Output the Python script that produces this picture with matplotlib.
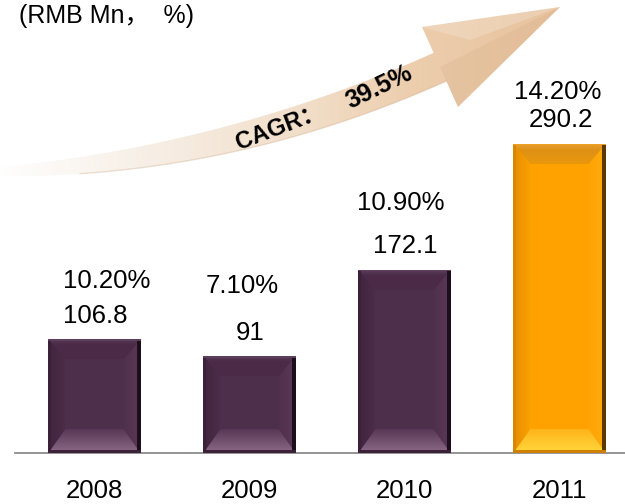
import numpy as np
import matplotlib
matplotlib.use('Agg')
import matplotlib.pyplot as plt
from matplotlib.patches import Polygon
from matplotlib.colors import to_rgb

# ---------------- data ----------------
years = ['2008', '2009', '2010', '2011']
revenue = [106.8, 91, 172.1, 290.2]          # RMB Mn
share = [10.2, 7.1, 10.9, 14.2]              # %
unit_label = '(RMB Mn，  %)'
cagr_label = 'CAGR：'
cagr_value = '39.5%'

# ---------------- layout ----------------
W, H = 625, 504
FONT = ['Liberation Sans', 'Noto Sans CJK SC', 'DejaVu Sans']
plt.rcParams['font.family'] = FONT

fig = plt.figure(figsize=(W / 100, H / 100), dpi=100)
ax = fig.add_axes([0, 0, 1, 1])
ax.set_xlim(-0.6097, 3.4226)
ax.set_ylim(-47.9, 425.4)
ax.axis('off')

ov = fig.add_axes([0, 0, 1, 1], zorder=5)
ov.patch.set_alpha(0)
ov.axis('off')

xpos = np.arange(len(years))
bar_colors = ['#4D2E4B', '#4D2E4B', '#4D2E4B', '#FFA200']
bars = ax.bar(xpos, revenue, width=0.594, color=bar_colors, linewidth=0, zorder=2)
ax.axhline(0, xmin=15 / W, xmax=1, color='#8C8C8C', lw=1.3, zorder=1)


def to_px(xd, yd):
    d = ax.transData.transform((xd, yd))
    return d[0], H - d[1]


def grad_poly(verts, stops, direction='v', zorder=3, alpha=1.0):
    verts = np.asarray(verts, float)
    x0, x1 = verts[:, 0].min(), verts[:, 0].max()
    y0, y1 = verts[:, 1].min(), verts[:, 1].max()
    n = 128
    t = np.linspace(0, 1, n)
    pos = [s[0] for s in stops]
    cols = np.array([to_rgb(s[1]) for s in stops])
    c = np.stack([np.interp(t, pos, cols[:, k]) for k in range(3)], axis=1)
    if direction == 'v':
        img = c[:, None, :]
    else:
        img = c[None, :, :]
    im = ov.imshow(img, extent=(x0, x1, y1, y0), origin='upper', aspect='auto',
                   interpolation='bilinear', zorder=zorder, alpha=alpha)
    clip = Polygon(verts, closed=True, transform=ov.transData,
                   facecolor='none', edgecolor='none')
    ov.add_patch(clip)
    im.set_clip_path(clip)
    return im


schemes = {
    'purple': dict(top=[(0, '#5E3F5B'), (0.25, '#4B2B48'), (1, '#4A2A47')],
                   bottom=[(0, '#573755'), (1, '#8C6A88')],
                   left=[(0, '#3F233C'), (1, '#4C2D49')],
                   right=[(0, '#4F304D'), (1, '#5A3957')],
                   edge_l='#3A2038', edge_r='#1C0F1B', edge_b='#3C2239', edge_t='#5E405C'),
    'orange': dict(top=[(0, '#E8A030'), (0.3, '#DE9116'), (1, '#E9980C')],
                   bottom=[(0, '#FFB41A'), (1, '#FFD83C')],
                   left=[(0, '#E58C00'), (1, '#FBA000')],
                   right=[(0, '#FFA404'), (1, '#FFAA10')],
                   edge_l='#D98600', edge_r='#5A3800', edge_b='#D08000', edge_t='#F0A020'),
}

for i, b in enumerate(bars):
    sc = schemes['orange' if i == 3 else 'purple']
    L, B = to_px(b.get_x(), b.get_y())
    R, T = to_px(b.get_x() + b.get_width(), b.get_y() + b.get_height())
    sx, st, sb = 17, 20, 24
    top = [(L, T), (R, T), (R - sx, T + st), (L + sx, T + st)]
    bottom = [(L, B), (R, B), (R - sx, B - sb), (L + sx, B - sb)]
    left = [(L, T), (L + sx, T + st), (L + sx, B - sb), (L, B)]
    right = [(R, T), (R, B), (R - sx, B - sb), (R - sx, T + st)]
    grad_poly(left, sc['left'], 'h', zorder=3)
    grad_poly(right, sc['right'], 'h', zorder=3)
    grad_poly(top, sc['top'], 'v', zorder=3)
    grad_poly(bottom, sc['bottom'], 'v', zorder=3)
    # thin outer edges
    ov.add_patch(Polygon([(L, T), (L + 2.5, T), (L + 2.5, B), (L, B)], closed=True,
                         facecolor=sc['edge_l'], edgecolor='none', zorder=4))
    ov.add_patch(Polygon([(R - 3.5, T), (R, T), (R, B), (R - 3.5, B)], closed=True,
                         facecolor=sc['edge_r'], edgecolor='none', zorder=4))
    ov.add_patch(Polygon([(L, B - 2.5), (R, B - 2.5), (R, B), (L, B)], closed=True,
                         facecolor=sc['edge_b'], edgecolor='none', zorder=4))
    ov.add_patch(Polygon([(L, T), (R, T), (R, T + 1.5), (L, T + 1.5)], closed=True,
                         facecolor=sc['edge_t'], edgecolor='none', zorder=4))

# ---------------- labels ----------------
pct_dx = [12, -7, -4, -2]
pct_gap = [35, 47, 43, 28]
for i, b in enumerate(bars):
    cx, _ = to_px(b.get_x() + b.get_width() / 2, 0)
    _, T = to_px(0, b.get_y() + b.get_height())
    vb = T - 16.5
    ov.text(cx + 1, vb, f'{revenue[i]:g}', ha='center', va='baseline',
            fontsize=18.5, color='black', zorder=6)
    ov.text(cx + pct_dx[i], vb - pct_gap[i], f'{share[i]:.2f}%', ha='center',
            va='baseline', fontsize=18.5, color='black', zorder=6)
    ov.text(cx, 498.5, years[i], ha='center', va='baseline', fontsize=18.5,
            color='black', zorder=6)

ov.text(19, 22.5, unit_label, ha='left', va='baseline', fontsize=18,
        color='black', family=FONT, zorder=6)

# ---------------- CAGR arrow ----------------
P0 = np.array([-8.0, 172.0])
P1 = np.array([225.0, 163.0])
P2 = np.array([440.0, 67.0])
t = np.linspace(0, 1, 160)[:, None]
Bc = (1 - t) ** 2 * P0 + 2 * (1 - t) * t * P1 + t ** 2 * P2
Td = 2 * (1 - t) * (P1 - P0) + 2 * t * (P2 - P1)
Td = Td / np.linalg.norm(Td, axis=1, keepdims=True)
Nrm = np.stack([-Td[:, 1], Td[:, 0]], axis=1)
wid = 8 + 23 * (1 - (1 - t[:, 0]) ** 2.2)
upper = Bc - Nrm * wid[:, None] / 2
lower = Bc + Nrm * wid[:, None] / 2
head_up = (422, 27)
tip = (560, 7)
head_lo = (458, 107)
arrow_verts = np.vstack([upper, [head_up, tip, head_lo], lower[::-1]])
arrow_stops = [(0, '#FFFFFF'), (0.27, '#F7EFE6'), (0.54, '#F2DFCA'),
               (0.75, '#ECCDAC'), (1, '#E8C39E')]
grad_poly(arrow_verts, arrow_stops, 'h', zorder=2)
# head shading
ov.add_patch(Polygon([tip, tuple(P2), head_lo], closed=True, facecolor='#C0906A',
                     alpha=0.12, edgecolor='none', zorder=2.5))
ov.add_patch(Polygon([head_up, tip, (470, 40)], closed=True, facecolor='#FFFFFF',
                     alpha=0.2, edgecolor='none', zorder=2.5))
ov.plot(lower[30:, 0], lower[30:, 1], color='#CDAA88', alpha=0.35, lw=1, zorder=2.6)

ov.text(282, 133.5, cagr_label, rotation=21, rotation_mode='anchor', ha='center',
        va='baseline', fontsize=17, fontweight='bold', color='black',
        family=FONT, zorder=6)
ov.text(382, 93, cagr_value, rotation=26, rotation_mode='anchor', ha='center',
        va='baseline', fontsize=18, fontweight='bold', color='black', zorder=6)

ov.set_xlim(0, W)
ov.set_ylim(H, 0)

fig.savefig('out.png', dpi=100, facecolor='white')
